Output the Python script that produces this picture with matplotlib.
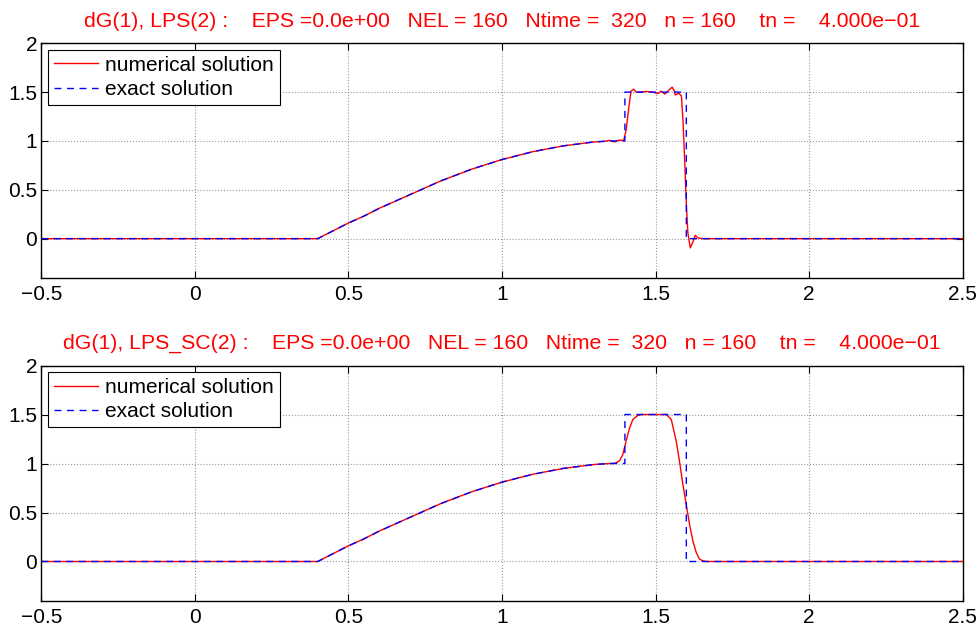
import numpy as np
import matplotlib
matplotlib.use('Agg')
import matplotlib.pyplot as plt

plt.rcParams['font.family'] = ['Liberation Sans', 'DejaVu Sans']

# smooth part of the solution
smooth_x = [-0.5, 0.4, 0.45, 0.5, 0.55, 0.6, 0.65, 0.7, 0.75, 0.8, 0.85, 0.9,
            0.95, 1.0, 1.05, 1.1, 1.15, 1.2, 1.25, 1.3]
smooth_y = [0.0, 0.0, 0.08, 0.16, 0.23, 0.31, 0.38, 0.45, 0.52, 0.59, 0.65, 0.71,
            0.76, 0.81, 0.85, 0.89, 0.92, 0.95, 0.97, 0.99]

# exact solution: square pulse after the smooth part
exact_x = smooth_x + [1.35, 1.4, 1.4, 1.6, 1.6, 2.5]
exact_y = smooth_y + [1.0, 1.0, 1.5, 1.5, 0.0, 0.0]

# numerical solution, LPS (top)
lps_x = smooth_x + [1.33, 1.35, 1.366, 1.38, 1.396, 1.404, 1.413, 1.42, 1.428, 1.437,
                    1.453, 1.47, 1.49, 1.508, 1.518, 1.53, 1.54, 1.548, 1.554, 1.56,
                    1.564, 1.57, 1.575, 1.584, 1.589, 1.595, 1.6, 1.605, 1.613, 1.622,
                    1.629, 1.638, 1.654, 2.5]
lps_y = smooth_y + [0.995, 1.005, 0.99, 1.008, 1.005, 1.11, 1.35, 1.51, 1.53, 1.50,
                    1.50, 1.507, 1.50, 1.486, 1.51, 1.48, 1.51, 1.535, 1.55, 1.52,
                    1.47, 1.48, 1.49, 1.46, 1.22, 0.77, 0.36, 0.06, -0.095, -0.03,
                    0.034, 0.007, 0.0, 0.0]

# numerical solution, LPS_SC (bottom)
lpssc_x = smooth_x + [1.35, 1.361, 1.372, 1.383, 1.393, 1.404, 1.415, 1.426, 1.442, 1.453,
                      1.535, 1.551, 1.567, 1.578, 1.589, 1.6, 1.611, 1.622, 1.633, 1.643,
                      1.654, 1.665, 2.5]
lpssc_y = smooth_y + [1.0, 1.0, 1.007, 1.03, 1.09, 1.23, 1.36, 1.45, 1.49, 1.5,
                      1.5, 1.45, 1.23, 1.02, 0.78, 0.58, 0.37, 0.2, 0.085, 0.024,
                      0.007, 0.0, 0.0]

titles = [
    'dG(1), LPS(2) :    EPS =0.0e+00   NEL = 160   Ntime =  320   n = 160    tn =    4.000e\u221201',
    'dG(1), LPS_SC(2) :    EPS =0.0e+00   NEL = 160   Ntime =  320   n = 160    tn =    4.000e\u221201',
]
xticks = [-0.5, 0, 0.5, 1, 1.5, 2, 2.5]
xticklabels = ['\u22120.5', '0', '0.5', '1', '1.5', '2', '2.5']
yticks = [0, 0.5, 1, 1.5, 2]

fig = plt.figure(figsize=(9.79, 6.29), dpi=100)
ax_top = fig.add_axes([0.0422, 0.5585, 0.9412, 0.3727])
ax_bot = fig.add_axes([0.0422, 0.045, 0.9412, 0.3739])

for ax, num_x, num_y, title in [(ax_top, lps_x, lps_y, titles[0]),
                                 (ax_bot, lpssc_x, lpssc_y, titles[1])]:
    ax.plot(num_x, num_y, color='red', lw=1.0, label='numerical solution')
    ax.plot(exact_x, exact_y, color='blue', lw=1.0, ls=(0, (5, 4)), label='exact solution')
    ax.set_xlim(-0.5, 2.5)
    ax.set_ylim(-0.4, 2)
    ax.set_xticks(xticks)
    ax.set_xticklabels(xticklabels)
    ax.set_yticks(yticks)
    ax.set_yticklabels(['0', '0.5', '1', '1.5', '2'])
    ax.tick_params(direction='in', length=5, width=0.8, top=True, right=True,
                   labelsize=15)
    ax.tick_params(axis='x', pad=5)
    ax.tick_params(axis='y', pad=3)
    ax.grid(True, color='0.6', ls=':', lw=0.8)
    for s in ax.spines.values():
        s.set_linewidth(1.0)
    ax.set_title(title, color='red', fontsize=15.3, pad=12)
    leg = ax.legend(loc='upper left', fontsize=15, fancybox=False, edgecolor='black',
                    framealpha=1, borderaxespad=0.3, handlelength=2.1,
                    handletextpad=0.35, borderpad=0.3, labelspacing=0.25)
    leg.get_frame().set_linewidth(0.8)

fig.savefig('out.png', dpi=100)
